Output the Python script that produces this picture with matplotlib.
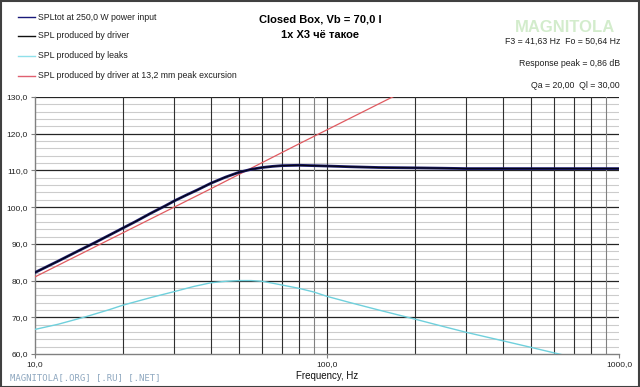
import matplotlib
matplotlib.use("Agg")
import matplotlib.pyplot as plt
from matplotlib.patches import Rectangle

plt.rcParams['font.family'] = ['Liberation Sans', 'DejaVu Sans']

# ---- data ----
freq_total = [10, 12, 14, 16, 18, 20, 22, 25, 28, 30, 33, 36, 40, 45, 50, 55, 60, 65, 70, 80, 90, 100, 120, 150, 200, 250, 300, 400, 600, 1000]
spl_total = [82.2, 85.3, 88.0, 90.3, 92.4, 94.3, 96.0, 98.4, 100.4, 101.7, 103.3, 104.7, 106.5, 108.2, 109.5, 110.3, 110.8, 111.1, 111.3, 111.4, 111.3, 111.2, 111.0, 110.8, 110.7, 110.6, 110.5, 110.5, 110.5, 110.5]

freq_excursion = [10, 20, 40, 80, 160, 200]
spl_excursion = [81.0, 93.0, 105.0, 117.2, 129.2, 133.0]

freq_leaks = [10, 12, 15, 18, 20, 25, 30, 35, 40, 45, 50, 55, 60, 65, 70, 80, 90, 100, 120, 150, 200, 250, 300, 400, 500, 600, 700]
spl_leaks = [66.7, 68.1, 70.2, 72.1, 73.3, 75.4, 77.0, 78.4, 79.4, 79.8, 80.0, 80.0, 79.8, 79.3, 78.8, 77.9, 76.9, 75.7, 74.0, 72.0, 69.5, 67.5, 65.9, 63.6, 61.8, 60.3, 59.1]

legend_labels = ["SPLtot at 250,0 W power input",
                 "SPL produced by driver",
                 "SPL produced by leaks",
                 "SPL produced by driver at 13,2 mm peak excursion"]
legend_colors = ["#1a1a7a", "#101010", "#8fe0ea", "#e06070"]

title_lines = ["Closed Box, Vb = 70,0 l", "1x X3 чё такое"]
info_lines = ["F3 = 41,63 Hz  Fo = 50,64 Hz", "Response peak = 0,86 dB", "Qa = 20,00  Ql = 30,00"]

x_ticks = [10, 100, 1000]
x_ticklabels = ["10,0", "100,0", "1000,0"]
y_ticks = [60, 70, 80, 90, 100, 110, 120, 130]
y_ticklabels = ["60,0", "70,0", "80,0", "90,0", "100,0", "110,0", "120,0", "130,0"]

# ---- figure ----
fig = plt.figure(figsize=(6.4, 3.87), dpi=100)
fig.patch.set_facecolor("white")
ax = fig.add_axes([35/640, 1-354/387, 584/640, 257/387])
ax.set_xscale("log")
ax.set_xlim(10, 1000)
ax.set_ylim(60, 130)

# grid: minor horizontal every 2 dB, major every 10 dB
for y in range(62, 130, 2):
    if y % 10:
        ax.axhline(y, color="#cccccc", lw=0.8, zorder=1)
for y in y_ticks[1:]:
    ax.axhline(y, color="#252525", lw=0.9, zorder=1.5)
vlines = [20, 30, 40, 50, 60, 70, 80, 90, 100, 200, 300, 400, 500, 600, 700, 800, 900]
for v in vlines:
    col = "#808080" if v in (90, 900) else "#303030"
    ax.axvline(v, color=col, lw=0.8, zorder=1.5)

ax.plot(freq_leaks, spl_leaks, color="#6fd0dc", lw=1.0, zorder=3)
ax.plot(freq_excursion, spl_excursion, color="#e05a60", lw=0.9, zorder=3)
ax.plot(freq_total, spl_total, color="#1a1a6a", lw=2.0, zorder=4)
ax.plot(freq_total, spl_total, color="#050510", lw=0.8, zorder=5)

for s in ["top", "right"]:
    ax.spines[s].set_visible(False)
for s in ["left", "bottom"]:
    ax.spines[s].set_color("#808080")
    ax.spines[s].set_linewidth(1.0)

ax.set_xticks(x_ticks)
ax.set_xticklabels(x_ticklabels)
ax.xaxis.set_minor_locator(matplotlib.ticker.NullLocator())
ax.set_yticks(y_ticks)
ax.set_yticklabels(y_ticklabels)
ax.tick_params(axis="both", labelsize=6, colors="#808080", labelcolor="#202020",
               length=3, width=0.8, direction="out", pad=2)
ax.set_xlabel("Frequency, Hz", fontsize=7, labelpad=2, color="#101010")

# legend (manual, on figure)
leg_y = [17, 36, 56, 76]
for lab, col, yy in zip(legend_labels, legend_colors, leg_y):
    fy = 1 - yy/387
    fig.add_artist(plt.Line2D([18/640, 35/640], [fy, fy], color=col, lw=1.0))
    fig.text(38/640, fy, lab, fontsize=6.3, va="center", ha="left", color="#202020")

# titles
fig.text(320/640, 1-19/387, title_lines[0], fontsize=8, fontweight="bold", ha="center", va="center")
fig.text(320/640, 1-35/387, title_lines[1], fontsize=8, fontweight="bold", ha="center", va="center")

# watermark logo text
fig.text(565/640, 1-27/387, "MAGNITOLA", fontsize=12, color="#c8e8c0", ha="center", va="center",
         fontweight="bold", alpha=0.8)

info_y = [41, 63, 85]
for t, yy in zip(info_lines, info_y):
    fig.text(620/640, 1-yy/387, t, fontsize=6.3, ha="right", va="center", color="#202020")

fig.text(10/640, 1-378/387, "MAGNITOLA[.ORG] [.RU] [.NET]", fontsize=6.5, family="DejaVu Sans Mono",
         color="#8fa8c0", ha="left", va="center")

# outer border
fig.add_artist(Rectangle((0.001, 0.001), 0.997, 0.997, transform=fig.transFigure,
                         fill=False, edgecolor="#404040", lw=1.5))

fig.savefig("out.png", dpi=100, facecolor="white")
